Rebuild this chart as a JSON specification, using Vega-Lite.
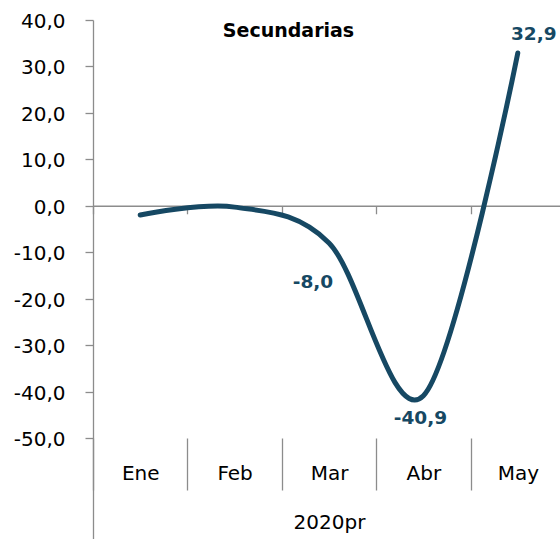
{
  "$schema": "https://vega.github.io/schema/vega-lite/v6.json",
  "width": 467,
  "height": 519,
  "autosize": {"type": "none"},
  "padding": {"left": 93, "top": 20, "right": 0, "bottom": 0},
  "background": "white",
  "title": {"text": "Secundarias", "font": "DejaVu Sans", "fontSize": 19, "fontWeight": "bold", "color": "black", "anchor": "middle", "frame": "group", "baseline": "middle", "offset": 0, "dx": -38, "dy": 38},
  "config": {
    "view": {"stroke": null},
    "locale": {"number": {"decimal": ",", "thousands": ".", "grouping": [3], "currency": ["", ""], "minus": "-"}}
  },
  "data": {"values": [
    {"mes": "Ene", "valor": -2.0},
    {"mes": "Feb", "valor": -0.3},
    {"mes": "Mar", "valor": -8.0},
    {"mes": "Abr", "valor": -40.9},
    {"mes": "May", "valor": 32.9}
  ]},
  "resolve": {"axis": {"x": "independent", "y": "independent"}},
  "layer": [
    {
      "mark": {"type": "line", "interpolate": "cardinal", "color": "#164863", "strokeWidth": 5, "strokeCap": "round"},
      "encoding": {
        "x": {"field": "mes", "type": "nominal", "sort": ["Ene", "Feb", "Mar", "Abr", "May"], "bandPosition": 0.5,
          "scale": {"type": "band", "range": [0, 472], "paddingInner": 0, "paddingOuter": 0},
          "axis": {"orient": "bottom", "offset": -333.24, "labels": false, "title": null, "tickBand": "extent", "ticks": true, "tickSize": 8, "tickColor": "#8c8c8c", "tickWidth": 1.3, "domain": true, "domainColor": "#8c8c8c", "domainWidth": 1.3, "grid": false}},
        "y": {"field": "valor", "type": "quantitative",
          "scale": {"domain": [-71.76, 40], "nice": false, "zero": false},
          "axis": {"values": [-50, -40, -30, -20, -10, 0, 10, 20, 30, 40], "format": ".1f", "title": null, "grid": false, "tickSize": 8, "tickColor": "#8c8c8c", "tickWidth": 1.3, "domainColor": "#8c8c8c", "domainWidth": 1.3, "labelFont": "DejaVu Sans", "labelFontSize": 20, "labelColor": "black", "labelPadding": 20, "labelBaseline": "middle", "labelOffset": 1.5}}
      }
    },
    {
      "mark": {"type": "text", "font": "DejaVu Sans", "fontSize": 18.5, "fontWeight": "bold", "color": "#164863", "dx": -16, "dy": 39},
      "transform": [{"filter": "datum.mes == 'Mar'"}],
      "encoding": {
        "x": {"field": "mes", "type": "nominal", "sort": ["Ene", "Feb", "Mar", "Abr", "May"], "bandPosition": 0.5,
          "scale": {"type": "band", "range": [0, 472], "paddingInner": 0, "paddingOuter": 0},
          "axis": {"orient": "bottom", "offset": -101, "domain": false, "tickBand": "extent", "tickSize": 52, "tickColor": "#8c8c8c", "tickWidth": 1.3, "labelAngle": 0, "labelFont": "DejaVu Sans", "labelFontSize": 20, "labelColor": "black", "labelBaseline": "middle", "labelPadding": -17, "grid": false,
            "title": "2020pr", "titleFont": "DejaVu Sans", "titleFontSize": 20, "titleFontWeight": "normal", "titleColor": "black", "titleY": 84, "titleBaseline": "middle"}},
        "y": {"field": "valor", "type": "quantitative", "scale": {"domain": [-71.76, 40], "nice": false, "zero": false}, "axis": null},
        "text": {"field": "valor", "type": "quantitative", "format": ".1f"}
      }
    },
    {
      "mark": {"type": "text", "font": "DejaVu Sans", "fontSize": 18.5, "fontWeight": "bold", "color": "#164863", "dx": -3, "dy": 22},
      "transform": [{"filter": "datum.mes == 'Abr'"}],
      "encoding": {
        "x": {"field": "mes", "type": "nominal", "sort": ["Ene", "Feb", "Mar", "Abr", "May"], "bandPosition": 0.5,
          "scale": {"type": "band", "range": [0, 472], "paddingInner": 0, "paddingOuter": 0}, "axis": null},
        "y": {"field": "valor", "type": "quantitative", "scale": {"domain": [-71.76, 40], "nice": false, "zero": false}, "axis": null},
        "text": {"field": "valor", "type": "quantitative", "format": ".1f"}
      }
    },
    {
      "mark": {"type": "text", "font": "DejaVu Sans", "fontSize": 18.5, "fontWeight": "bold", "color": "#164863", "dx": 16, "dy": -19},
      "transform": [{"filter": "datum.mes == 'May'"}],
      "encoding": {
        "x": {"field": "mes", "type": "nominal", "sort": ["Ene", "Feb", "Mar", "Abr", "May"], "bandPosition": 0.5,
          "scale": {"type": "band", "range": [0, 472], "paddingInner": 0, "paddingOuter": 0}, "axis": null},
        "y": {"field": "valor", "type": "quantitative", "scale": {"domain": [-71.76, 40], "nice": false, "zero": false}, "axis": null},
        "text": {"field": "valor", "type": "quantitative", "format": ".1f"}
      }
    }
  ]
}
